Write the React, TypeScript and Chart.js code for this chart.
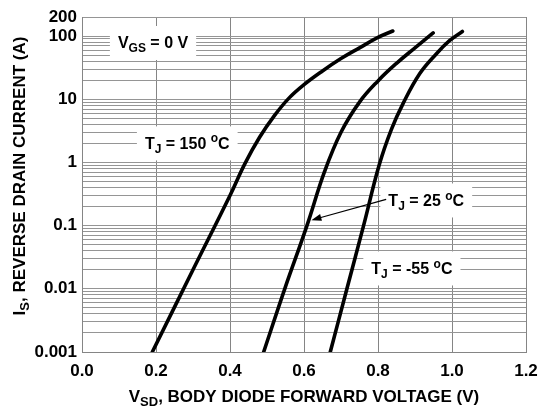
import { useEffect, useRef } from 'react';
import { Chart, registerables } from 'chart.js';

Chart.register(...registerables);

const FONT = '"Liberation Sans", Arial, Helvetica, sans-serif';

// X axis
const xTickValues = [0, 0.2, 0.4, 0.6, 0.8, 1.0, 1.2];

// Y axis (log)
const yLabelValues = [0.001, 0.01, 0.1, 1, 10, 100, 200];
const yLabelText = ['0.001', '0.01', '0.1', '1', '10', '100', '200'];
const yDecades = [0.001, 0.01, 0.1, 1, 10];
const yMinorMult = [2, 3, 4, 5, 6, 7, 8, 9];

// Series: TJ = 150 °C
const v150 = [0.19, 0.30, 0.40, 0.44, 0.48, 0.52, 0.56, 0.60, 0.65, 0.70, 0.75, 0.80, 0.84];
const i150 = [0.001, 0.02, 0.3, 0.95, 2.5, 5.5, 10.5, 17, 28, 44, 65, 95, 120];
// Series: TJ = 25 °C
const v25 = [0.491, 0.548, 0.608, 0.655, 0.70, 0.75, 0.80, 0.85, 0.90, 0.949];
const i25 = [0.001, 0.01, 0.1, 0.7, 3.0, 9, 19.5, 37, 65, 112];
// Series: TJ = -55 °C
const vm55 = [0.671, 0.716, 0.761, 0.803, 0.836, 0.868, 0.913, 0.958, 0.994, 1.028];
const im55 = [0.001, 0.01, 0.1, 0.9, 3.3, 8.6, 25.5, 52.5, 85, 118];

type Seg = { t: string; k?: 'sub' | 'sup' };

const labelVgs: Seg[] = [{ t: 'V' }, { t: 'GS', k: 'sub' }, { t: ' = 0 V' }];
const label150: Seg[] = [{ t: 'T' }, { t: 'J', k: 'sub' }, { t: ' = 150 ' }, { t: 'o', k: 'sup' }, { t: 'C' }];
const label25: Seg[] = [{ t: 'T' }, { t: 'J', k: 'sub' }, { t: ' = 25 ' }, { t: 'o', k: 'sup' }, { t: 'C' }];
const labelM55: Seg[] = [{ t: 'T' }, { t: 'J', k: 'sub' }, { t: ' = -55 ' }, { t: 'o', k: 'sup' }, { t: 'C' }];
const xTitle: Seg[] = [{ t: 'V' }, { t: 'SD', k: 'sub' }, { t: ', BODY DIODE FORWARD VOLTAGE (V)' }];
const yTitle: Seg[] = [{ t: 'I' }, { t: 'S', k: 'sub' }, { t: ', REVERSE DRAIN CURRENT (A)' }];

// annotation anchors in data units (left of text, vertical centre)
const annotations = [
  { segs: labelVgs, x: 0.097, y: 77.6 },
  { segs: label150, x: 0.17, y: 2.0 },
  { segs: label25, x: 0.828, y: 0.25 },
  { segs: labelM55, x: 0.782, y: 0.021 },
];
const arrowFrom = { x: 0.822, y: 0.26 };
const arrowTo = { x: 0.62, y: 0.122 };

function segSize(s: Seg, size: number) {
  return s.k === 'sub' ? Math.round(size * 0.75) : s.k === 'sup' ? Math.round(size * 0.72) : size;
}
function segDy(s: Seg, size: number) {
  return s.k === 'sub' ? size * 0.25 : s.k === 'sup' ? -size * 0.4 : 0;
}
function measureSegs(ctx: CanvasRenderingContext2D, segs: Seg[], size: number) {
  let w = 0;
  for (const s of segs) {
    ctx.font = `bold ${segSize(s, size)}px ${FONT}`;
    w += ctx.measureText(s.t).width;
  }
  return w;
}
function drawSegs(ctx: CanvasRenderingContext2D, segs: Seg[], x: number, y: number, size: number) {
  ctx.textBaseline = 'alphabetic';
  ctx.textAlign = 'left';
  ctx.fillStyle = '#000';
  let cx = x;
  for (const s of segs) {
    ctx.font = `bold ${segSize(s, size)}px ${FONT}`;
    ctx.fillText(s.t, cx, y + segDy(s, size));
    cx += ctx.measureText(s.t).width;
  }
}

const gridValues: number[] = [];
for (const d of yDecades) {
  gridValues.push(d);
  for (const m of yMinorMult) gridValues.push(parseFloat((d * m).toPrecision(3)));
}
gridValues.push(100, 200);

const ANNO_SIZE = 16;
const TITLE_SIZE = 17;
const TICK_SIZE = 17;

const annoPlugin = {
  id: 'annoPlugin',
  beforeDatasetsDraw(chart: any) {
    const ctx: CanvasRenderingContext2D = chart.ctx;
    const xs = chart.scales.x;
    const ys = chart.scales.y;
    ctx.save();
    for (const a of annotations) {
      const px = xs.getPixelForValue(a.x);
      const py = ys.getPixelForValue(a.y);
      const w = measureSegs(ctx, a.segs, ANNO_SIZE);
      ctx.fillStyle = '#fff';
      ctx.fillRect(px - 8, py - 17, w + 16, 34);
      drawSegs(ctx, a.segs, px, py + 5.5, ANNO_SIZE);
    }
    ctx.restore();
  },
  afterDatasetsDraw(chart: any) {
    const ctx: CanvasRenderingContext2D = chart.ctx;
    const xs = chart.scales.x;
    const ys = chart.scales.y;
    const x0 = xs.getPixelForValue(arrowFrom.x);
    const y0 = ys.getPixelForValue(arrowFrom.y);
    const x1 = xs.getPixelForValue(arrowTo.x);
    const y1 = ys.getPixelForValue(arrowTo.y);
    const ang = Math.atan2(y1 - y0, x1 - x0);
    const L = 10;
    const W = 3.5;
    ctx.save();
    ctx.strokeStyle = '#000';
    ctx.fillStyle = '#000';
    ctx.lineWidth = 1.2;
    ctx.beginPath();
    ctx.moveTo(x0, y0);
    ctx.lineTo(x1 - Math.cos(ang) * L * 0.8, y1 - Math.sin(ang) * L * 0.8);
    ctx.stroke();
    ctx.beginPath();
    ctx.moveTo(x1, y1);
    ctx.lineTo(x1 - Math.cos(ang) * L - Math.sin(ang) * W, y1 - Math.sin(ang) * L + Math.cos(ang) * W);
    ctx.lineTo(x1 - Math.cos(ang) * L + Math.sin(ang) * W, y1 - Math.sin(ang) * L - Math.cos(ang) * W);
    ctx.closePath();
    ctx.fill();
    ctx.restore();
  },
  afterDraw(chart: any) {
    const ctx: CanvasRenderingContext2D = chart.ctx;
    const area = chart.chartArea;
    ctx.save();
    // x title
    const wx = measureSegs(ctx, xTitle, TITLE_SIZE);
    drawSegs(ctx, xTitle, (area.left + area.right) / 2 - wx / 2, 402, TITLE_SIZE);
    // y title
    const wy = measureSegs(ctx, yTitle, TITLE_SIZE);
    ctx.translate(25, 176);
    ctx.rotate(-Math.PI / 2);
    drawSegs(ctx, yTitle, -wy / 2, 0, TITLE_SIZE);
    ctx.restore();
  },
};

function toPoints(xs: number[], ys: number[]) {
  return xs.map((x, i) => ({ x, y: ys[i] }));
}

export default function App() {
  const ref = useRef<HTMLCanvasElement | null>(null);
  useEffect(() => {
    if (!ref.current) return;
    const lineStyle = {
      borderColor: '#000',
      borderWidth: 3.6,
      pointRadius: 0,
      fill: false,
      tension: 0.4,
      showLine: true,
      borderCapStyle: 'round' as const,
      borderJoinStyle: 'round' as const,
    };
    const chart = new Chart(ref.current, {
      type: 'scatter',
      data: {
        datasets: [
          { label: 'TJ = 150 °C', data: toPoints(v150, i150), ...lineStyle },
          { label: 'TJ = 25 °C', data: toPoints(v25, i25), ...lineStyle },
          { label: 'TJ = -55 °C', data: toPoints(vm55, im55), ...lineStyle },
        ],
      },
      options: {
        responsive: false,
        animation: false,
        devicePixelRatio: 1,
        layout: { padding: { left: 0, top: 17, right: 23, bottom: 0 } },
        plugins: { legend: { display: false }, tooltip: { enabled: false } },
        scales: {
          x: {
            type: 'linear',
            min: 0,
            max: 1.2,
            afterBuildTicks: (scale: any) => {
              scale.ticks = xTickValues.map((v) => ({ value: v }));
            },
            afterFit: (scale: any) => {
              scale.height = 54;
            },
            grid: { color: '#858585', lineWidth: 1, drawTicks: false },
            border: { color: '#858585' },
            ticks: {
              autoSkip: false,
              maxRotation: 0,
              padding: 9,
              color: '#000',
              font: { family: FONT, size: TICK_SIZE, weight: 'bold' },
              callback: (v: any) => Number(v).toFixed(1),
            },
          },
          y: {
            type: 'logarithmic',
            min: 0.001,
            max: 200,
            afterBuildTicks: (scale: any) => {
              scale.ticks = gridValues.map((v) => ({ value: v }));
            },
            afterFit: (scale: any) => {
              scale.width = 82;
            },
            grid: { color: '#959595', lineWidth: 1, drawTicks: false },
            border: { color: '#858585' },
            ticks: {
              autoSkip: false,
              padding: 5,
              color: '#000',
              font: { family: FONT, size: TICK_SIZE, weight: 'bold' },
              callback: (v: any) => {
                const idx = yLabelValues.findIndex((l) => Math.abs(l - Number(v)) / l < 1e-6);
                return idx >= 0 ? yLabelText[idx] : '';
              },
            },
          },
        },
      },
      plugins: [annoPlugin],
    });
    return () => chart.destroy();
  }, []);
  return (
    <div style={{ position: 'absolute', left: 0, top: 0, width: 549, height: 406, background: '#fff' }}>
      <canvas ref={ref} width={549} height={406} style={{ display: 'block' }} />
    </div>
  );
}
